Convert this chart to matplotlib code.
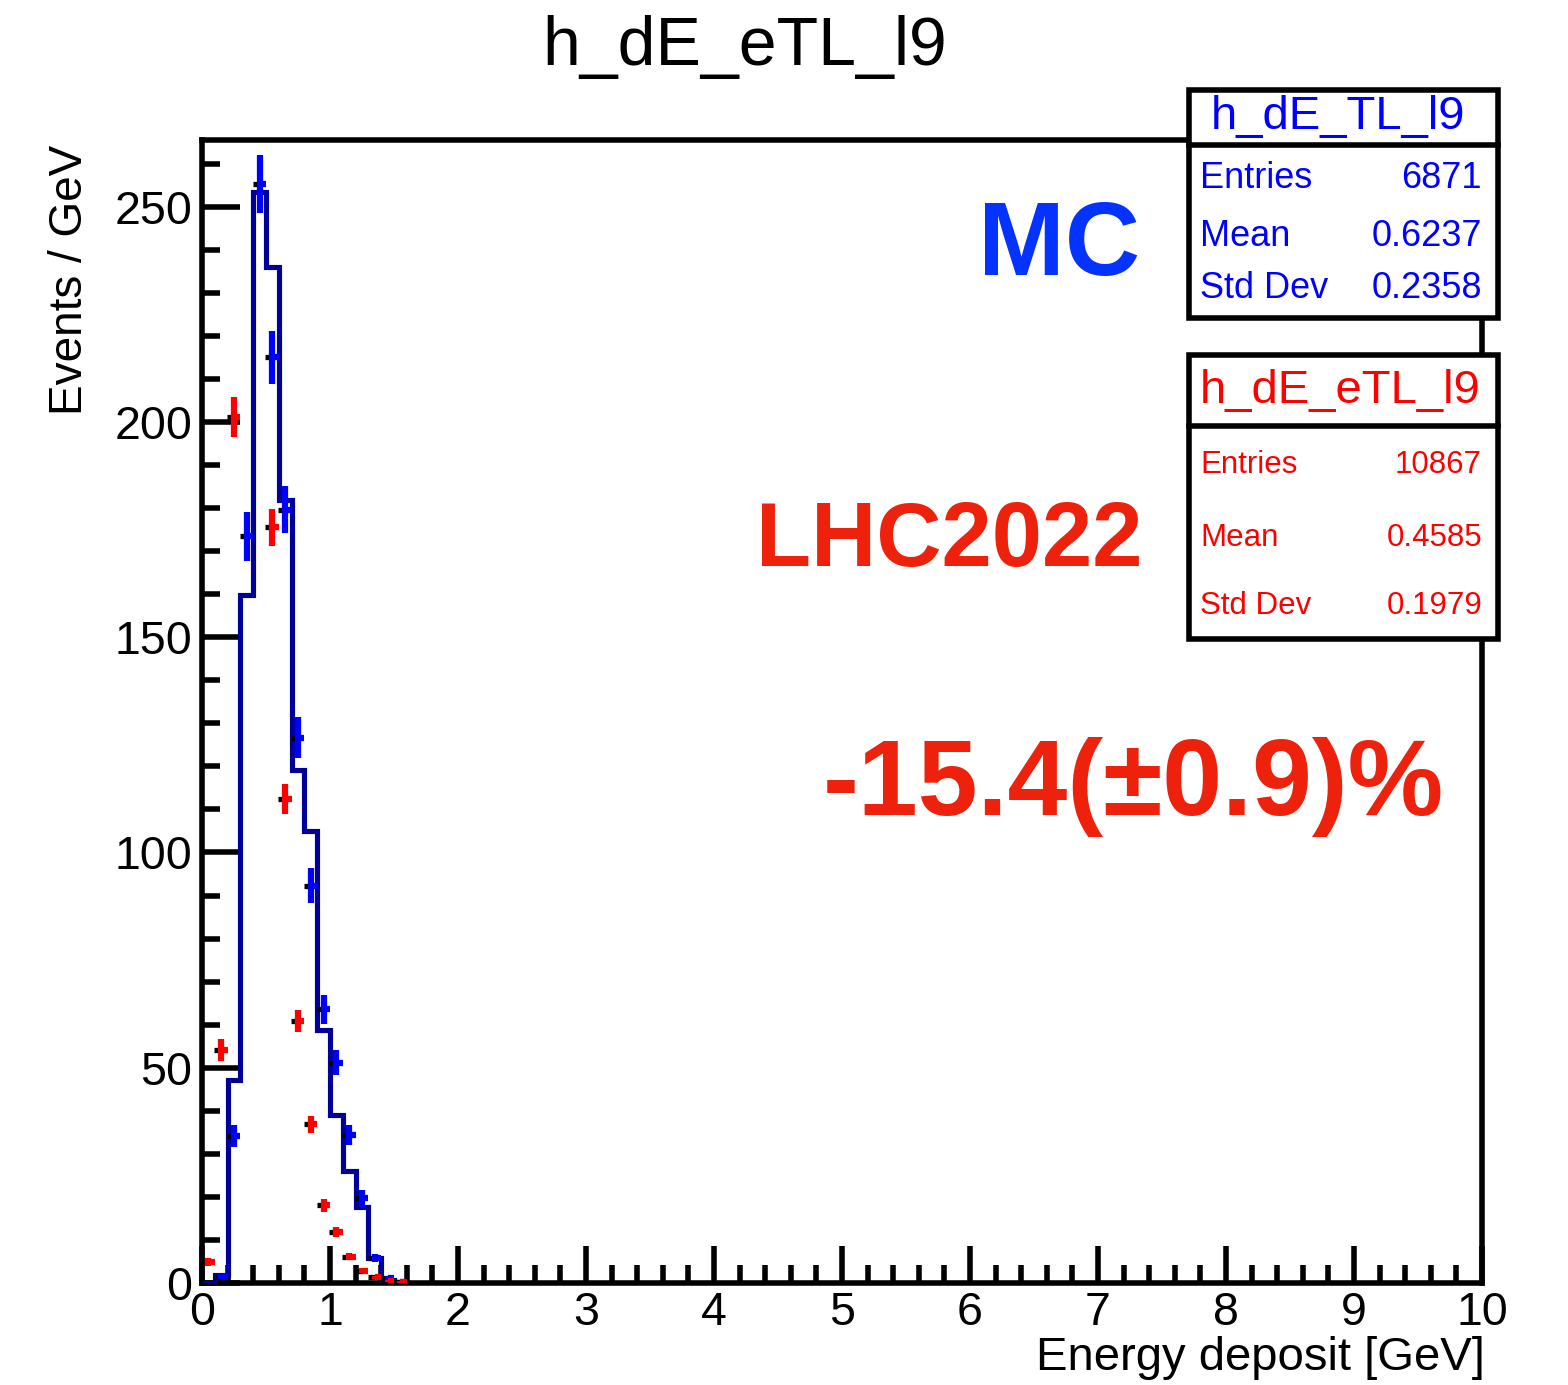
import matplotlib.pyplot as plt
from matplotlib.patches import Rectangle
from matplotlib.lines import Line2D
from matplotlib.ticker import MultipleLocator
import numpy as np

plt.rcParams['font.family'] = ['Liberation Sans', 'DejaVu Sans']

# ── data ──
# bin edges / centres (0.1 GeV bins)
bin_edges = [0.0, 0.1, 0.2, 0.3, 0.4, 0.5, 0.6, 0.7, 0.8,
             0.9, 1.0, 1.1, 1.2, 1.3, 1.4, 1.5, 1.6]
bin_centers = [0.05, 0.15, 0.25, 0.35, 0.45, 0.55, 0.65, 0.75,
               0.85, 0.95, 1.05, 1.15, 1.25, 1.35, 1.45, 1.55]

# MC step histogram (dark blue line)
mc_step = [0, 1.9, 47.2, 159.8, 253.5, 236.1, 181.9, 119.2,
           105.0, 58.8, 39.0, 25.9, 17.7, 5.8, 0.7, 0]

# MC points (blue)
mc_vals = [0, 1.5, 34.1, 173.4, 255.3, 215.0, 179.6, 126.7,
           92.3, 63.6, 51.2, 34.4, 19.7, 5.8, 1.2, 0.3]
mc_errs = [0, 0.6, 2.5, 5.6, 6.7, 6.2, 5.5, 4.8,
           4.1, 3.4, 3.0, 2.4, 2.0, 1.0, 0.5, 0.2]

# data points (red) -- 0.35 and 0.45 are above the frame
data_vals = [4.9, 54.1, 201.2, 290.0, 277.0, 175.5, 112.4, 60.9,
             36.9, 18.1, 11.8, 6.1, 2.9, 1.3, 0.5, 0.3]
data_errs = [1.0, 2.6, 4.7, 5.7, 5.6, 4.4, 3.5, 2.6,
             2.0, 1.5, 1.2, 0.8, 0.6, 0.4, 0.3, 0.2]

mc_stats = [('Entries', '6871'), ('Mean', '0.6237'), ('Std Dev', '0.2358')]
data_stats = [('Entries', '10867'), ('Mean', '0.4585'), ('Std Dev', '0.1979')]

# ── figure ──
W, H = 1568, 1385
fig = plt.figure(figsize=(W / 100, H / 100), dpi=100)
fig.patch.set_facecolor('white')


def fx(px):
    return px / W


def fy(py):
    return 1 - py / H


ax = fig.add_axes([fx(202), fy(1283), (1482 - 202) / W, (1283 - 140) / H])

LW = 4.0
ax.stairs(mc_step, bin_edges, color='#000099', lw=3.7, zorder=3)


def draw_points(xs, ys, errs, color):
    xs = np.asarray(xs)
    ys = np.asarray(ys)
    errs = np.asarray(errs)
    m = ys > 0
    xs, ys, errs = xs[m], ys[m], errs[m]
    ax.hlines(ys, xs - 0.055, xs, color='black', lw=3.8, zorder=4)
    ax.errorbar(xs, ys, yerr=errs,
                xerr=[np.zeros_like(xs), np.full_like(xs, 0.05)],
                fmt='none', ecolor=color, elinewidth=4.5, capsize=0, zorder=5)


draw_points(bin_centers, mc_vals, mc_errs, '#0000FF')
draw_points(bin_centers, data_vals, data_errs, '#FF0000')

ax.set_xlim(0, 10)
ax.set_ylim(0, 265.5)
ax.xaxis.set_major_locator(MultipleLocator(1))
ax.xaxis.set_minor_locator(MultipleLocator(0.2))
ax.yaxis.set_major_locator(MultipleLocator(50))
ax.yaxis.set_minor_locator(MultipleLocator(10))
ax.tick_params(which='both', direction='in', width=LW, top=False, right=False,
               labelsize=33.5, colors='black')
ax.tick_params(which='major', length=27)
ax.tick_params(which='minor', length=13)
ax.tick_params(axis='x', pad=6)
ax.tick_params(axis='y', pad=7)
for sp in ax.spines.values():
    sp.set_linewidth(LW)

# ── labels ──
fig.text(fx(745), fy(47), 'h_dE_eTL_l9', ha='center', va='center', fontsize=49)
fig.text(fx(1485), fy(1358), 'Energy deposit [GeV]', ha='right', va='center', fontsize=34)
fig.text(fx(70), fy(145), 'Events / GeV', ha='center', va='top', rotation=90, fontsize=33)

# annotations
fig.text(fx(1140), fy(275), 'MC', ha='right', va='baseline', fontsize=75,
         fontweight='bold', color='#0433FF', zorder=8)
fig.text(fx(1143), fy(566), 'LHC2022', ha='right', va='baseline', fontsize=65,
         fontweight='bold', color='#EE220C', zorder=8)
fig.text(fx(1133), fy(815), '-15.4(±0.9)%', ha='center', va='baseline', fontsize=77.5,
         fontweight='bold', color='#EE220C', zorder=8)


# ── stats boxes ──
def stats_box(x0, x1, y0, y1, ysep, title, rows, row_y, color, tsize, rsize, title_x, title_ha):
    fig.add_artist(Rectangle((fx(x0), fy(y1)), (x1 - x0) / W, (y1 - y0) / H,
                             transform=fig.transFigure, facecolor='white',
                             edgecolor='black', lw=LW, zorder=6))
    fig.add_artist(Line2D([fx(x0), fx(x1)], [fy(ysep), fy(ysep)],
                          transform=fig.transFigure, color='black', lw=LW, zorder=7))
    fig.text(fx(title_x), fy((y0 + ysep) / 2), title, ha=title_ha, va='center',
             fontsize=tsize, color=color, zorder=8)
    for (lab, val), yy in zip(rows, row_y):
        fig.text(fx(1200), fy(yy), lab, ha='left', va='center', fontsize=rsize,
                 color=color, zorder=8)
        fig.text(fx(1482), fy(yy), val, ha='right', va='center', fontsize=rsize,
                 color=color, zorder=8)


stats_box(1189, 1498, 90, 318, 145, 'h_dE_TL_l9', mc_stats,
          [178, 236, 289], '#0000FF', 34, 26, 1338, 'center')
stats_box(1189, 1498, 355, 639, 426, 'h_dE_eTL_l9', data_stats,
          [465, 538, 606], '#FF0000', 34, 22.5, 1200, 'left')

fig.savefig('out.png', dpi=100, facecolor='white')
